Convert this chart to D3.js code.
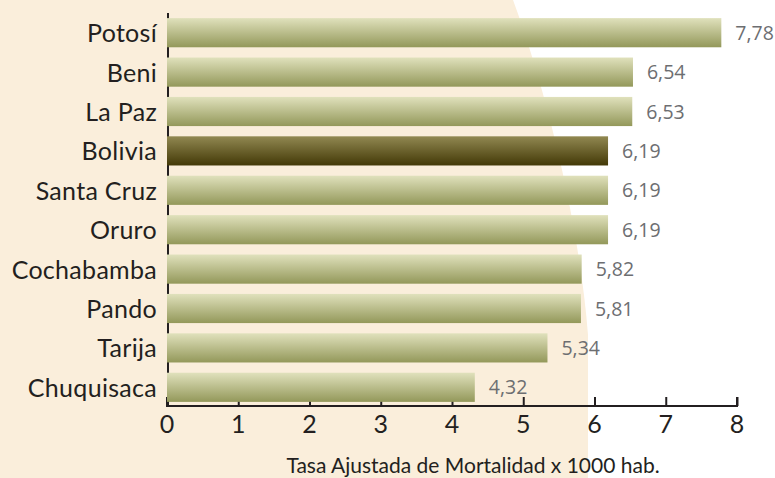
<!DOCTYPE html>
<html>
<head>
<meta charset="utf-8">
<script src="https://cdn.jsdelivr.net/npm/d3@7"></script>
<style>
  html, body { margin: 0; padding: 0; background: #ffffff; }
  svg { display: block; }
</style>
</head>
<body>
<svg id="chart" width="775" height="478"></svg>
<script>
const categories = ["Potosí", "Beni", "La Paz", "Bolivia", "Santa Cruz", "Oruro", "Cochabamba", "Pando", "Tarija", "Chuquisaca"];
const values = [7.78, 6.54, 6.53, 6.19, 6.19, 6.19, 5.82, 5.81, 5.34, 4.32];
const valueLabels = ["7,78", "6,54", "6,53", "6,19", "6,19", "6,19", "5,82", "5,81", "5,34", "4,32"];
const highlight = "Bolivia";
const xTicks = [0, 1, 2, 3, 4, 5, 6, 7, 8];
const axisTitle = "Tasa Ajustada de Mortalidad x 1000 hab.";

const W = 775, H = 478;
const svg = d3.select("#chart");

// background cream shape
svg.append("rect").attr("width", W).attr("height", H).attr("fill", "#ffffff");
svg.append("path")
  .attr("d", "M0,0 L513,0 C548,95 580,230 588,335 L588,478 L0,478 Z")
  .attr("fill", "#FAEEDB");

const defs = svg.append("defs");
const g1 = defs.append("linearGradient").attr("id", "gNormal").attr("x1", 0).attr("y1", 0).attr("x2", 0).attr("y2", 1);
g1.append("stop").attr("offset", "0%").attr("stop-color", "#E0E1BC");
g1.append("stop").attr("offset", "100%").attr("stop-color", "#93985A");
const g2 = defs.append("linearGradient").attr("id", "gHigh").attr("x1", 0).attr("y1", 0).attr("x2", 0).attr("y2", 1);
g2.append("stop").attr("offset", "0%").attr("stop-color", "#918851");
g2.append("stop").attr("offset", "100%").attr("stop-color", "#433907");

const x = d3.scaleLinear().domain([0, 8]).range([167, 737]);
const y = d3.scaleBand().domain(categories).range([13, 407]).paddingInner(0.26).paddingOuter(0.13);

const ink = "#231F20";
const labelFont = "Lato, sans-serif";

// y axis line
svg.append("line")
  .attr("x1", x(0) + 1).attr("x2", x(0) + 1)
  .attr("y1", 13).attr("y2", 407)
  .attr("stroke", ink).attr("stroke-width", 2);

// x axis
const xAxis = d3.axisTop(x).tickValues(xTicks).tickSize(9).tickFormat("");
const ax = svg.append("g").attr("transform", "translate(0,406)").call(xAxis);
ax.select(".domain").attr("stroke", ink).attr("stroke-width", 2).attr("d", `M${x(0)},-9V0H${x(8)}V-9`);
ax.selectAll(".tick line").attr("stroke", ink).attr("stroke-width", 2);

// tick labels
svg.append("g").selectAll("text").data(xTicks).join("text")
  .attr("x", d => x(d))
  .attr("y", 433)
  .attr("text-anchor", "middle")
  .attr("font-family", labelFont)
  .attr("font-size", 25)
  .attr("fill", ink)
  .text(d => d);

// bars
svg.append("g").selectAll("rect").data(categories).join("rect")
  .attr("x", x(0))
  .attr("y", d => y(d))
  .attr("width", (d, i) => x(values[i]) - x(0))
  .attr("height", y.bandwidth())
  .attr("fill", d => d === highlight ? "url(#gHigh)" : "url(#gNormal)");

// category labels
svg.append("g").selectAll("text").data(categories).join("text")
  .attr("x", 157)
  .attr("y", d => y(d) + y.bandwidth() / 2 + 9.5)
  .attr("text-anchor", "end")
  .attr("font-family", labelFont)
  .attr("font-size", 25)
  .attr("letter-spacing", 0.3)
  .attr("fill", ink)
  .text(d => d);

// value labels
svg.append("g").selectAll("text").data(categories).join("text")
  .attr("x", (d, i) => x(values[i]) + 14)
  .attr("y", d => y(d) + y.bandwidth() / 2 + 7)
  .attr("font-family", "'Open Sans', sans-serif")
  .attr("font-size", 19.5)
  .attr("fill", "#6D6E71")
  .text((d, i) => valueLabels[i]);

// axis title
svg.append("text")
  .attr("x", 473)
  .attr("y", 473)
  .attr("text-anchor", "middle")
  .attr("font-family", labelFont)
  .attr("font-size", 21)
  .attr("fill", ink)
  .text(axisTitle);
</script>
</body>
</html>
